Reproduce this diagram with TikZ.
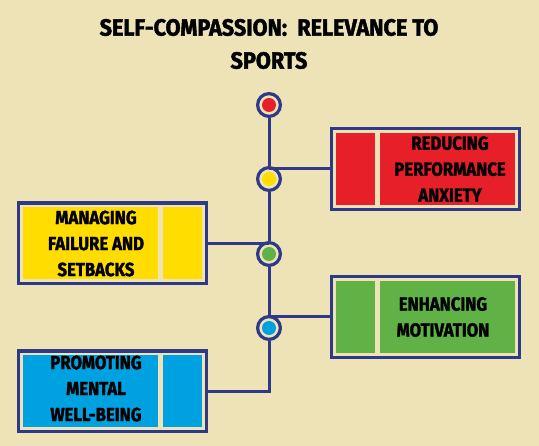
\documentclass[tikz,border=0pt]{standalone}
\usepackage{fontspec}
\newfontfamily\posterfont{Fira Sans}[FakeStretch=0.88,FakeBold=1.6]
\newfontfamily\headfont{Fira Sans}[FakeStretch=0.92,FakeBold=1.8]
\usetikzlibrary{calc,positioning}
\definecolor{paper}{HTML}{EEE3B7}
\definecolor{navy}{HTML}{2E3A87}
\definecolor{pred}{HTML}{E71F28}
\definecolor{pyellow}{HTML}{FFDD00}
\definecolor{pgreen}{HTML}{60B246}
\definecolor{pblue}{HTML}{00A1E1}

\begin{document}
\begin{tikzpicture}[x=1pt,y=-1pt,%
station/.style = {circle, draw=navy, line width=3.2pt, fill=paper, minimum size=22.8pt, inner sep=0pt},
panel/.style = {draw=navy, line width=3.2pt, fill=paper, minimum width=187.8pt, minimum height=80.8pt, inner sep=0pt},
boxtext/.style = {font=\posterfont\bfseries\fontsize{19}{26}\selectfont, align=center},
link/.style = {draw=navy, line width=3pt}]
\fill[paper] (0,0) rectangle (539,446);
\useasboundingbox (0,0) rectangle (539,446);

\node[font=\headfont\bfseries\fontsize{23.5}{33}\selectfont, align=center] (title) at (269,44) {SELF-COMPASSION:\ \ RELEVANCE TO\\SPORTS};

\node[station] (d1) at (269,105) {};
\node[station] (d2) at (269,179) {};
\node[station] (d3) at (269,254) {};
\node[station] (d4) at (269,328) {};
\fill[pred] (d1) circle (7pt);
\fill[pyellow] (d2) circle (7pt);
\fill[pgreen] (d3) circle (7pt);
\fill[pblue] (d4) circle (7pt);

\node[panel] (b1) at (425.5,169) {};
\fill[pred] ($(b1.north west)+(6,6)$) rectangle ++(39,72);
\fill[pred] ($(b1.north west)+(50,6)$) rectangle ++(135,72);
\node[boxtext] (t1) at ($(b1.north west)+(120,42)$) {REDUCING\\PERFORMANCE\\ANXIETY};

\node[panel] (b2) at (112.5,243.5) {};
\fill[pyellow] ($(b2.north west)+(6,6)$) rectangle ++(135,72);
\fill[pyellow] ($(b2.north west)+(146,6)$) rectangle ++(39,72);
\node[boxtext] (t2) at ($(b2.north west)+(79,42)$) {MANAGING\\FAILURE AND\\SETBACKS};

\node[panel] (b3) at (425.5,317) {};
\fill[pgreen] ($(b3.north west)+(6,6)$) rectangle ++(39,72);
\fill[pgreen] ($(b3.north west)+(50,6)$) rectangle ++(135,72);
\node[boxtext] (t3) at ($(b3.north west)+(113,42)$) {ENHANCING\\MOTIVATION};

\node[panel] (b4) at (112.5,391.5) {};
\fill[pblue] ($(b4.north west)+(6,6)$) rectangle ++(135,72);
\fill[pblue] ($(b4.north west)+(146,6)$) rectangle ++(39,72);
\node[boxtext] (t4) at ($(b4.north west)+(79,39)$) {PROMOTING\\MENTAL\\WELL-BEING};

\draw[link] (d1.south) -- (d2.north);
\draw[link] (d2.south) -- (d3.north);
\draw[link] (d3.south) -- (d4.north);
\draw[link] (d4.south) -- (d4 |- b4.east) -- (b4.east);
\draw[link] (b1.west -| d1) -- (b1.west);
\draw[link] (b2.east) -- (b2.east -| d2);
\draw[link] (b3.west -| d4) -- (b3.west);
\end{tikzpicture}
\end{document}
